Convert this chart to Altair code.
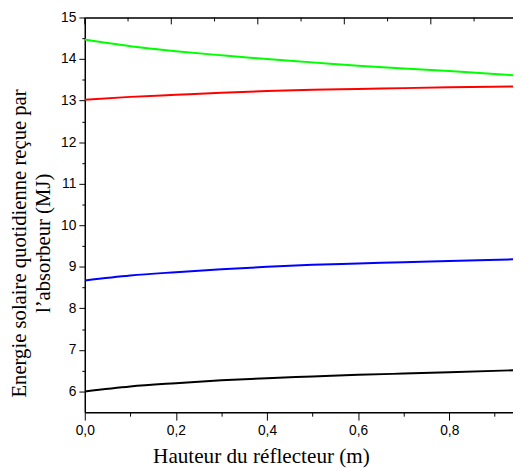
import altair as alt
import pandas as pd

# ---- data ----
x_vals = [0.0, 0.1, 0.2, 0.3, 0.4, 0.5, 0.6, 0.7, 0.8, 0.94]
green_vals = [14.47, 14.31, 14.19, 14.09, 14.00, 13.92, 13.84, 13.77, 13.71, 13.61]
red_vals = [13.02, 13.09, 13.14, 13.19, 13.23, 13.26, 13.28, 13.30, 13.32, 13.34]
blue_vals = [8.67, 8.79, 8.87, 8.94, 9.00, 9.05, 9.08, 9.11, 9.14, 9.18]
black_vals = [6.00, 6.12, 6.20, 6.27, 6.32, 6.36, 6.40, 6.43, 6.46, 6.51]

series_names = ["vert", "rouge", "bleu", "noir"]
series_colors = ["#00ff00", "#ff0000", "#0000ff", "#000000"]

x_tick_values = [0.0, 0.1, 0.2, 0.3, 0.4, 0.5, 0.6, 0.7, 0.8, 0.9]
y_tick_values = [6 + 0.5 * i for i in range(19)]
top_major_ticks = [0.0, 0.2, 0.4, 0.6, 0.8]
top_minor_ticks = [0.1, 0.3, 0.5, 0.7, 0.9]

rows = []
for name, vals in zip(series_names, [green_vals, red_vals, blue_vals, black_vals]):
    for xv, yv in zip(x_vals, vals):
        rows.append({"x": xv, "y": yv, "s": name})
df = pd.DataFrame(rows)

W, H = 435, 401
serif = "Liberation Serif"
sans = "Liberation Sans"

x_axis = alt.Axis(
    values=x_tick_values,
    title="Hauteur du réflecteur (m)",
    titleFont=serif, titleFontSize=21.5, titleFontWeight="normal", titleColor="black",
    titleX=179, titleY=34, titleAlign="center",
    labelFont=sans, labelFontSize=14, labelColor="black",
    labelExpr="round(datum.value*10)%2==0 ? replace(format(datum.value,'.1f'),'.',',') : ''",
    tickSize={"condition": {"test": "round(datum.value*10)%2==0", "value": 8}, "value": 4},
    tickColor="black", tickWidth=1, labelPadding=4,
    domainColor="black", domainWidth=1.5, grid=False, labelFlush=False,
)

y_axis = alt.Axis(
    values=y_tick_values,
    title=["Energie solaire quotidienne  reçue par", "l\u2019absorbeur (MJ)"],
    titleFont=serif, titleFontSize=21, titleFontWeight="normal", titleColor="black",
    titleLineHeight=25, titlePadding=7, titleY=229,
    labelFont=sans, labelFontSize=14, labelColor="black",
    labelExpr="datum.value % 1 == 0 ? format(datum.value,'d') : ''",
    tickSize={"condition": {"test": "datum.value % 1 == 0", "value": 6}, "value": 3},
    tickColor="black", tickWidth=1, labelPadding=3,
    domainColor="black", domainWidth=1.5, grid=False,
)

lines = alt.Chart(df).mark_line(strokeWidth=2, interpolate="monotone", clip=True).encode(
    x=alt.X("x:Q", scale=alt.Scale(domain=[0, 0.94], nice=False, zero=False), axis=x_axis),
    y=alt.Y("y:Q", scale=alt.Scale(domain=[5.5, 15], nice=False, zero=False), axis=y_axis),
    color=alt.Color("s:N", scale=alt.Scale(domain=series_names, range=series_colors), legend=None),
)

top_scale = alt.Scale(domain=[0, 0.99], nice=False, zero=False)
top_axis = alt.Axis(orient="top", labels=False, ticks=False, title=None,
                    domainColor="black", domainWidth=1.5, grid=False)

top_major = alt.Chart(pd.DataFrame({"t": top_major_ticks})).mark_rule(color="black", strokeWidth=1).encode(
    x=alt.X("t:Q", scale=top_scale, axis=top_axis),
    y=alt.value(0), y2=alt.value(7),
)
top_minor = alt.Chart(pd.DataFrame({"t": top_minor_ticks})).mark_rule(color="black", strokeWidth=1).encode(
    x=alt.X("t:Q", scale=top_scale, axis=top_axis),
    y=alt.value(0), y2=alt.value(4),
)

chart = alt.layer(lines, alt.layer(top_major, top_minor)).resolve_scale(x="independent").properties(
    width=W, height=H,
    autosize=alt.AutoSizeParams(type="none"),
    padding={"left": 78, "top": 6, "right": 0, "bottom": 53},
).configure_view(stroke=None).configure(background="white")

chart.save("out.html", embed_options={"renderer": "svg", "actions": False})
